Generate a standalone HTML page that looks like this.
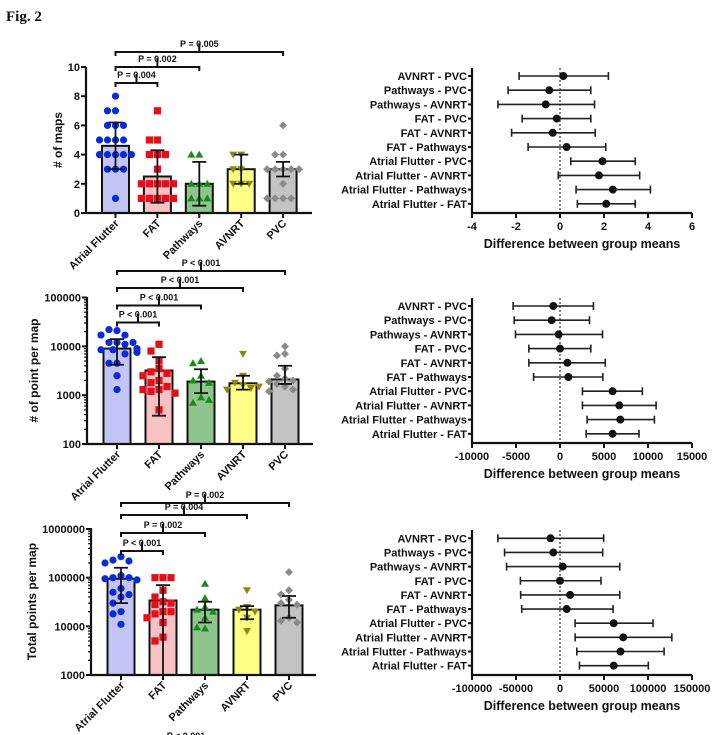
<!DOCTYPE html>
<html><head><meta charset="utf-8">
<style>
html,body{margin:0;padding:0;background:#fff;}
svg{display:block;font-family:"Liberation Sans",sans-serif;}
text{font-weight:bold;fill:#111;}
</style></head>
<body>
<svg id="fig" width="726" height="735" viewBox="0 0 726 735" xmlns="http://www.w3.org/2000/svg">
<rect width="726" height="735" fill="#fff"/>
<text x="6" y="21" font-family="Liberation Serif, serif" font-size="15">Fig. 2</text>
</svg>
<script>
// ---------- DATA ----------
const categories = ["Atrial Flutter","FAT","Pathways","AVNRT","PVC"];
// Panel A: # of maps
const mapsMean = [4.6, 2.5, 2.0, 3.0, 3.0];
const mapsLo = [3.0, 0.7, 0.5, 2.0, 2.5];
const mapsHi = [6.2, 4.3, 3.5, 4.0, 3.5];
const mapsAF = [8,7,7,6,6,6,5,5,5,5,4,4,4,4,4,3,3,3,1];
const mapsFAT = [7,5,5,4,4,4,3,2,2,2,2,2,1,1,1,1,1];
const mapsPath = [4,4,2,2,2,1,1,1];
const mapsAVNRT = [4,4,3,3,2,2,2];
const mapsPVC = [6,4,4,3,3,3,3,3,2,1,1,1,1];
const mapsTicks = [0,2,4,6,8,10];
// Panel B: # of point per map
const pointsMean = [9000, 3200, 1900, 1750, 2100];
const pointsLo = [4200, 380, 1100, 1300, 1700];
const pointsHi = [14000, 6000, 3400, 2500, 4000];
const pointsAF = [21000,22000,17000,17000,12000,12000,12000,11000,8500,8500,9000,8500,7000,7500,4500,4500,2500,1300];
const pointsFAT = [11000,8000,5000,3500,3000,2800,2500,2000,1800,1500,1300,1300,1200,1100,500];
const pointsPath = [5000,4500,2500,2000,1800,900,700,800];
const pointsAVNRT = [7000,2500,1800,1600,1400,1300,1500];
const pointsPVC = [10000,7000,6500,3500,2500,2200,2000,1900,1700,1500,1300,1200];
const pointsTicks = [100,1000,10000,100000];
// Panel C: total points per map
const totalMean = [95000, 34000, 22000, 22000, 27000];
const totalLo = [30000, 1000, 12000, 14000, 15000];
const totalHi = [160000, 70000, 32000, 26000, 42000];
const totalAF = [270000,230000,220000,200000,110000,100000,100000,95000,90000,60000,50000,45000,40000,30000,20000,18000,11000];
const totalFAT = [100000,100000,100000,55000,40000,32000,30000,28000,20000,20000,18000,15000,12000,6000,5000];
const totalPath = [75000,38000,25000,22000,20000,15000,9000,9500];
const totalAVNRT = [55000,25000,22000,20000,15000,8000];
const totalPVC = [130000,55000,45000,35000,30000,28000,15000,13000,12000];
const totalTicks = [1000,10000,100000,1000000];
// Comparisons (forest plots), top to bottom
const comparisons = ["AVNRT - PVC","Pathways - PVC","Pathways - AVNRT","FAT - PVC","FAT - AVNRT","FAT - Pathways","Atrial Flutter - PVC","Atrial Flutter - AVNRT","Atrial Flutter - Pathways","Atrial Flutter - FAT"];
const diffMapsMean = [0.15,-0.49,-0.65,-0.15,-0.33,0.3,1.93,1.77,2.4,2.1];
const diffMapsLo = [-1.86,-2.36,-2.82,-1.72,-2.2,-1.45,0.49,-0.08,0.73,0.79];
const diffMapsHi = [2.2,1.4,1.57,1.4,1.6,2.08,3.42,3.62,4.11,3.42];
const diffMapsTicks = [-4,-2,0,2,4,6];
const diffPointsMean = [-760,-950,-150,0,840,950,5970,6740,6850,5970];
const diffPointsLo = [-5330,-5210,-5060,-3540,-3540,-3000,2550,2550,3080,2970];
const diffPointsHi = [3800,3350,4830,3500,5140,4870,9360,10920,10730,8980];
const diffPointsTicks = [-10000,-5000,0,5000,10000,15000];
const diffTotalMean = [-10700,-7600,3050,0,11500,7600,61000,71800,68700,61000];
const diffTotalLo = [-70600,-63000,-60700,-45000,-44700,-43500,17200,17200,19100,22100];
const diffTotalHi = [49600,48500,67900,46600,67900,60300,105700,127100,118300,100400];
const diffTotalTicks = [-100000,-50000,0,50000,100000,150000];

// ---------- DRAW ----------
const NS="http://www.w3.org/2000/svg";
const svg=document.getElementById('fig');
function mk(tag,attrs,parent){const e=document.createElementNS(NS,tag);for(const k in attrs)e.setAttribute(k,attrs[k]);(parent||svg).appendChild(e);return e;}
const fills=["#c2c5f6","#f8c2c4","#8ec58d","#ffff85","#c3c3c3"];
const dotCol=["#0b2bd9","#e3101c","#1b8a1b","#8c8a12","#8a8a8a"];

function marker(g,k,x,y){
  let e;
  const c=dotCol[k];
  if(k===0) e=mk('circle',{cx:x,cy:y,r:3.6,fill:c},g);
  else if(k===1) e=mk('rect',{x:x-3.6,y:y-3.6,width:7.2,height:7.2,fill:c},g);
  else if(k===2) e=mk('polygon',{points:`${x},${y-4} ${x-4},${y+3} ${x+4},${y+3}`,fill:c},g);
  else if(k===3) e=mk('polygon',{points:`${x},${y+4} ${x-4},${y-3} ${x+4},${y-3}`,fill:c},g);
  else e=mk('polygon',{points:`${x},${y-4} ${x+4},${y} ${x},${y+4} ${x-4},${y}`,fill:c},g);
  
  
}

function swarm(ys){
  const placed=[];const out=[];
  const cands=[0,-8,8,-16,16,-12,12,-4,4,-20,20];
  ys.forEach(y=>{
    let best=cands[cands.length-1];
    for(const o of cands){
      if(placed.every(p=>Math.hypot(p[0]-o,p[1]-y)>=7.5)){best=o;break;}
    }
    placed.push([best,y]);out.push(best);
  });
  return out;
}

function barPanel(cfg){
  const g=mk('g',{});
  
  
  const Y=cfg.yScale;
  const base=cfg.axisY;
  const cx=i=>cfg.c0+cfg.step*i;
  for(let i=0;i<5;i++){
    const top=Y(cfg.mean[i]);
    const b=mk('rect',{x:cx(i)-13.5,y:top,width:27,height:base-top,fill:fills[i],stroke:'#111','stroke-width':2},g);
    
    
  }
  for(let i=0;i<5;i++){
    const ys=cfg.dots[i].map(v=>Y(v));
    const offs=swarm(ys);
    ys.forEach((yy,j)=>marker(g,i,cx(i)+offs[j],yy));
  }
  for(let i=0;i<5;i++){
    const ylo=Y(cfg.lo[i]),yhi=Y(cfg.hi[i]);
    const e=mk('path',{d:`M${cx(i)},${ylo}V${yhi}M${cx(i)-7},${yhi}h14M${cx(i)-7},${ylo}h14`,stroke:'#111','stroke-width':1.8,fill:'none'},g);
    
    
  }
  const ax=mk('path',{d:`M${cfg.axisX},${cfg.topY}V${base}H${cfg.xEnd}`,stroke:'#111','stroke-width':2.2,fill:'none'},g);
  
  
  cfg.ticks.forEach(t=>{
    const yy=Y(t);
    mk('line',{x1:cfg.axisX-5,x2:cfg.axisX,y1:yy,y2:yy,stroke:'#111','stroke-width':2},g);
    const tl=mk('text',{x:cfg.axisX-6,y:yy+4,'font-size':11,'text-anchor':'end'},g);
    tl.textContent=t;
    
    
  });
  if(cfg.log){
    for(let d=0;d<cfg.ticks.length-1;d++){
      for(let m=2;m<10;m++){
        const yy=Y(cfg.ticks[d]*m);
        mk('line',{x1:cfg.axisX-3,x2:cfg.axisX,y1:yy,y2:yy,stroke:'#111','stroke-width':1.2},g);
      }
    }
  }
  for(let i=0;i<5;i++){
    mk('line',{x1:cx(i),x2:cx(i),y1:base,y2:base+5,stroke:'#111','stroke-width':2},g);
    const lx=cx(i)+4,ly=base+11;
    const t=mk('text',{x:lx,y:ly,'font-size':11,'text-anchor':'end',transform:`rotate(-45 ${lx} ${ly})`},g);
    t.textContent=categories[i];
    
    
  }
  const tx=cfg.titleX, ty=(cfg.topY+base)/2;
  const yt=mk('text',{x:tx,y:ty,'font-size':12,'text-anchor':'middle',transform:`rotate(-90 ${tx} ${ty})`},g);
  yt.textContent=cfg.title;
  
  
  cfg.brackets.forEach(bk=>{
    const x1=cx(0),x2=cx(bk.to),mid=(x1+x2)/2;
    mk('path',{d:`M${x1},${bk.y+4}V${bk.y}H${x2}V${bk.y+4}M${mid},${bk.y}V${bk.y-9}`,stroke:'#111','stroke-width':2,fill:'none'},g);
    const lt=mk('text',{x:mid,y:bk.y-5,'font-size':9,'text-anchor':'middle'},g);
    lt.textContent=bk.label;
    
    
  });
}

function forest(cfg){
  const g=mk('g',{});
  
  
  const X=v=>472+(v-cfg.ticks[0])/(cfg.ticks[cfg.ticks.length-1]-cfg.ticks[0])*220;
  const Yr=i=>cfg.row0+cfg.dy*i;
  mk('line',{x1:X(0),x2:X(0),y1:cfg.topY,y2:cfg.axisY,stroke:'#333','stroke-width':1.2,'stroke-dasharray':'2,2'},g);
  const ax=mk('path',{d:`M472,${cfg.topY}V${cfg.axisY}H692`,stroke:'#111','stroke-width':2.2,fill:'none'},g);
  
  
  cfg.ticks.forEach(t=>{
    mk('line',{x1:X(t),x2:X(t),y1:cfg.axisY,y2:cfg.axisY+5,stroke:'#111','stroke-width':2},g);
    const tl=mk('text',{x:X(t),y:cfg.axisY+17,'font-size':11,'text-anchor':'middle'},g);
    tl.textContent=t;
    
    
  });
  comparisons.forEach((c,i)=>{
    const y=Yr(i);
    mk('line',{x1:468,x2:472,y1:y,y2:y,stroke:'#111','stroke-width':2},g);
    const tl=mk('text',{x:467,y:y+4,'font-size':11,'text-anchor':'end'},g);
    tl.textContent=c;
    
    
    const a=X(cfg.lo[i]),b=X(cfg.hi[i]);
    const ci=mk('path',{d:`M${a},${y}H${b}M${a},${y-4}v8M${b},${y-4}v8`,stroke:'#222','stroke-width':1.6,fill:'none'},g);
    
    
    const d=mk('circle',{cx:X(cfg.mean[i]),cy:y,r:4,fill:'#111'},g);
    
    
  });
  const t=mk('text',{x:582,y:cfg.axisY+35,'font-size':12.5,'text-anchor':'middle'},g);
  t.textContent="Difference between group means";
  
  
}

function logScale(lo,hi,yLo,yHi){return v=>yLo-(Math.log10(v)-Math.log10(lo))/(Math.log10(hi)-Math.log10(lo))*(yLo-yHi);}

barPanel({name:'maps-bar-chart',yScale:v=>213-v*14.6,axisY:213,topY:67,axisX:86,xEnd:312,c0:115.5,step:41.9,
  mean:mapsMean,lo:mapsLo,hi:mapsHi,dots:[mapsAF,mapsFAT,mapsPath,mapsAVNRT,mapsPVC],ticks:mapsTicks,log:false,
  title:'# of maps',titleX:62,
  brackets:[{to:4,y:52,label:'P = 0.005'},{to:2,y:67,label:'P = 0.002'},{to:1,y:83,label:'P = 0.004'}]});
barPanel({name:'points-per-map-bar-chart',yScale:logScale(100,100000,444,297.5),axisY:444,topY:297,axisX:87,xEnd:313,c0:117,step:42,
  mean:pointsMean,lo:pointsLo,hi:pointsHi,dots:[pointsAF,pointsFAT,pointsPath,pointsAVNRT,pointsPVC],ticks:pointsTicks,log:true,
  title:'# of point per map',titleX:38,
  brackets:[{to:4,y:271,label:'P < 0.001'},{to:3,y:288,label:'P < 0.001'},{to:2,y:305.5,label:'P < 0.001'},{to:1,y:322.5,label:'P < 0.001'}]});
barPanel({name:'total-points-bar-chart',yScale:logScale(1000,1000000,675,529),axisY:675,topY:528,axisX:91,xEnd:316,c0:121,step:42,
  mean:totalMean,lo:totalLo,hi:totalHi,dots:[totalAF,totalFAT,totalPath,totalAVNRT,totalPVC],ticks:totalTicks,log:true,
  title:'Total points per map',titleX:36,
  brackets:[{to:4,y:503,label:'P = 0.002'},{to:3,y:515,label:'P = 0.004'},{to:2,y:533,label:'P = 0.002'},{to:1,y:551,label:'P < 0.001'}]});
const extra=mk('text',{x:186,y:739,'font-size':9,'text-anchor':'middle'});
extra.textContent='P < 0.001';



forest({name:'maps-difference-plot',ticks:diffMapsTicks,mean:diffMapsMean,lo:diffMapsLo,hi:diffMapsHi,topY:68,axisY:213,row0:76,dy:14.2});
forest({name:'points-difference-plot',ticks:diffPointsTicks,mean:diffPointsMean,lo:diffPointsLo,hi:diffPointsHi,topY:298,axisY:443,row0:306,dy:14.2});
forest({name:'total-difference-plot',ticks:diffTotalTicks,mean:diffTotalMean,lo:diffTotalLo,hi:diffTotalHi,topY:530,axisY:675,row0:538.3,dy:14.15});
</script>
</body></html>
